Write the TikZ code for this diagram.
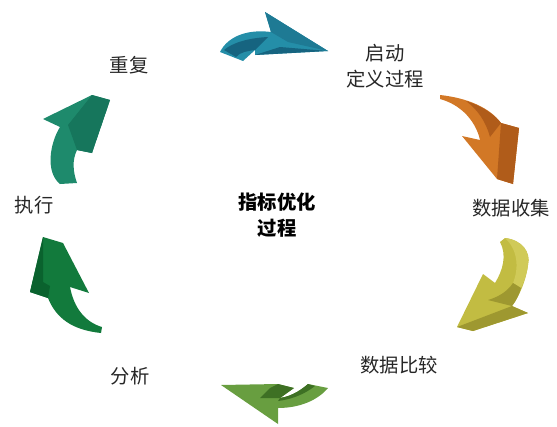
\documentclass[tikz,border=0pt]{standalone}
\usepackage{fontspec}
\setmainfont{Noto Sans CJK SC}
\definecolor{tealmain}{RGB}{36,142,168}
\definecolor{tealmid}{RGB}{30,122,148}
\definecolor{tealdark}{RGB}{22,100,128}
\definecolor{orangemain}{RGB}{210,120,38}
\definecolor{orangedark}{RGB}{176,92,26}
\definecolor{yellowmain}{RGB}{194,188,66}
\definecolor{yellowlight}{RGB}{208,202,88}
\definecolor{yellowdark}{RGB}{158,152,48}
\definecolor{leafmain}{RGB}{104,158,64}
\definecolor{leafdark}{RGB}{62,112,36}
\definecolor{forestmain}{RGB}{18,122,60}
\definecolor{forestdark}{RGB}{10,98,46}
\definecolor{seamain}{RGB}{30,138,108}
\definecolor{seadark}{RGB}{22,118,92}
\tikzset{
	step label/.style={align=center, inner sep=0pt, font=\fontsize{11}{14.5}\selectfont, text=black!85},
	center label/.style={align=center, inner sep=0pt, font=\fontsize{11}{14.5}\selectfont\bfseries},
}
\begin{document}
\begin{tikzpicture}[x=0.02cm, y=-0.02cm, line join=round]
	\useasboundingbox (0,0) rectangle (557,426);
	%Teal arrow
	\fill [tealmain] (265,12) -- (328,51) -- (255,55) -- (255,50) -- (243,61) -- (220,52) .. controls (228,36) and (248,29) .. (271,32) -- cycle;
	\fill [tealdark] (224,50) .. controls (232,43) and (248,38) .. (268,37) -- (255,50) .. controls (248,51) and (240,52) .. (236,57) -- cycle;
	\fill [tealmid] (265,12) -- (328,51) -- (288,42) -- (271,32) -- cycle;
	\fill [tealdark] (255,55) -- (328,51) -- (280,47) -- cycle;
	%Orange arrow
	\fill [orangemain] (440,95) .. controls (468,98) and (490,108) .. (501,123) -- (519,128) -- (513,184) -- (497,179) -- (462,136) -- (480,140) .. controls (476,122) and (462,105) .. (440,99) -- cycle;
	\fill [orangedark] (466,101) .. controls (482,106) and (494,114) .. (501,123) -- (490,137) .. controls (486,122) and (478,110) .. cycle;
	\fill [orangedark] (501,123) -- (519,128) -- (513,184) -- (497,179) -- cycle;
	%Yellow arrow
	\fill [yellowmain] (500,242) -- (505,238) .. controls (522,240) and (531,252) .. (528,265) .. controls (526,280) and (520,295) .. (512,306) -- (528,313) -- (473,331) -- (457,327) -- (483,274) -- (495,283) .. controls (503,270) and (507,255) .. (500,242) -- cycle;
	\fill [yellowlight] (505,238) .. controls (522,240) and (531,252) .. (528,265) .. controls (527,274) and (524,282) .. (521,288) -- (513,283) .. controls (519,268) and (518,250) .. cycle;
	\fill [yellowdark] (513,283) -- (521,288) .. controls (519,295) and (516,301) .. (512,306) -- (488,300) .. controls (498,297) and (507,292) .. cycle;
	\fill [yellowdark] (457,327) -- (473,331) -- (528,313) -- (512,306) -- cycle;
	%Light green arrow
	\fill [leafmain] (221,385) -- (278,384) -- (294,388) -- (280,398) .. controls (293,396) and (302,389) .. (308,384) -- (328,388) .. controls (318,400) and (300,408) .. (278,408) -- (278,424) -- cycle;
	\fill [leafdark] (270,388) -- (278,384) -- (294,388) -- (280,398) -- (260,398) -- cycle;
	\fill [leafdark] (280,398) .. controls (293,396) and (302,389) .. (308,384) -- (315,386) .. controls (306,393) and (294,399) .. (278,401) -- cycle;
	%Dark green arrow
	\fill [forestmain] (43,237) -- (63,243) -- (89,293) -- (70,287) .. controls (74,308) and (85,322) .. (102,327) -- (101,333) .. controls (72,330) and (56,318) .. (48,298) -- (30,292) -- cycle;
	\fill [forestdark] (43,237) -- (30,292) -- (48,298) -- (50,286) -- (43,282) -- cycle;
	%Sea green arrow
	\fill [seamain] (92,95) -- (110,100) -- (92,153) -- (77,150) .. controls (72,160) and (73,172) .. (77,183) -- (60,184) .. controls (45,172) and (50,143) .. (60,127) -- (43,119) -- cycle;
	\fill [seadark] (92,95) -- (110,100) -- (92,153) -- (77,150) -- (68,125) -- cycle;
	%Step labels
	\node [step label] (start) at (385,66) {启动\\定义过程};
	\node [step label] (collect) at (511,208) {数据收集};
	\node [step label] (compare) at (399,365) {数据比较};
	\node [step label] (analyse) at (130,376) {分析};
	\node [step label] (execute) at (34,205) {执行};
	\node [step label] (repeat) at (129,65) {重复};
	%Center
	\node [center label] (center) at (277,215) {指标优化\\过程};
\end{tikzpicture}
\end{document}
